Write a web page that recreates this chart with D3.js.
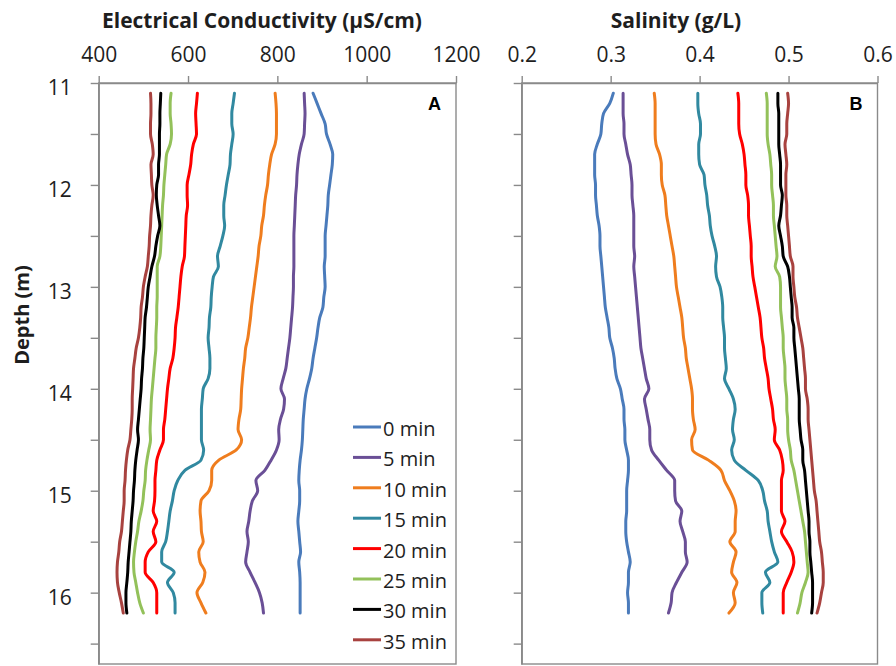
<!DOCTYPE html>
<html>
<head>
<meta charset="utf-8">
<script src="https://cdn.jsdelivr.net/npm/d3@7"></script>
<style>
  body { margin: 0; background: #fff; }
  text { font-family: "Open Sans", "DejaVu Sans", sans-serif; }
</style>
</head>
<body>
<svg id="chart" width="896" height="666"></svg>
<script>
// Depth of each profile reading (m)
const depth = [11.1,11.2,11.3,11.4,11.5,11.6,11.7,11.8,11.9,12.0,12.1,12.2,12.3,12.4,12.5,12.6,12.7,
  12.8,12.9,13.0,13.1,13.2,13.3,13.4,13.5,13.6,13.7,13.8,13.9,14.0,14.1,14.2,14.3,14.4,
  14.5,14.6,14.7,14.8,14.9,15.0,15.1,15.2,15.3,15.4,15.5,15.6,15.7,15.8,15.9,16.0,16.1,16.2];

const seriesNames = ["0 min","5 min","10 min","15 min","20 min","25 min","30 min","35 min"];
const seriesColors = ["#4a7bbb","#6a4f96","#ef7d1e","#3189a0","#ff0000","#93c15a","#000000","#a8423f"];

// Electrical conductivity profiles (µS/cm)
const ec0 = [880,889,898,907,910,918,924,923,920,917,914,913,911,909,907,907,907,
  905,906,907,904,902,895,891,888,884,880,877,872,866,862,860,858,857,
  856,854,851,849,848,850,850,848,846,848,850,852,848,850,851,851,851,851];
const ec5 = [860,861,862,861,860,854,849,846,844,843,841,840,839,838,837,837,837,
  837,836,836,835,834,832,830,828,825,822,819,813,808,816,814,807,803,
  804,798,786,772,752,756,744,739,736,732,735,732,729,739,750,760,766,769];
const ec10 = [795,797,798,798,798,795,787,783,780,778,774,771,769,765,763,759,757,
  754,751,748,745,742,740,737,734,729,727,724,722,720,719,718,714,712,
  720,708,669,653,653,647,629,627,629,630,634,624,627,638,633,620,629,640];
const ec15 = [704,701,698,698,701,698,695,694,690,686,683,680,680,682,678,672,666,
  668,657,654,652,651,648,647,645,647,649,649,645,634,632,630,630,630,
  630,635,629,593,577,569,565,560,557,554,550,541,541,569,554,567,571,571];
const ec20 = [621,619,617,618,619,612,608,606,602,598,598,599,596,595,594,593,592,
  587,584,582,580,578,575,572,571,569,566,560,557,554,552,550,548,545,
  545,537,530,528,526,526,525,522,530,522,528,511,504,504,522,530,530,530];
const ec25 = [562,560,560,562,563,560,552,550,548,546,545,543,542,541,540,539,537,
  531,531,531,531,530,530,529,528,528,526,524,522,520,518,517,516,515,
  516,512,508,505,504,501,499,495,490,487,483,480,478,479,483,487,492,500];
const ec30 = [539,538,537,537,536,536,536,534,534,530,529,531,534,537,532,528,525,
  519,515,511,509,507,504,503,502,501,499,498,496,495,493,491,489,487,
  489,486,483,481,480,478,477,475,473,472,470,468,466,465,463,461,461,463];
const ec35 = [516,517,517,516,516,520,522,517,518,519,522,519,517,516,514,513,511,
  509,504,500,498,495,494,492,489,484,481,478,477,476,475,475,474,472,
  470,465,462,460,459,457,457,455,453,451,447,445,442,441,442,446,451,455];

// Salinity profiles (g/L)
const sal0 = [.303,.299,.292,.290,.289,.285,.282,.282,.282,.283,.283,.284,.285,.287,.288,.288,.289,
  .290,.291,.292,.293,.294,.296,.298,.299,.302,.304,.305,.307,.311,.313,.315,.315,.316,
  .316,.318,.320,.320,.319,.318,.318,.318,.317,.317,.318,.320,.322,.320,.320,.319,.320,.320];
const sal5 = [.314,.314,.314,.315,.315,.317,.319,.322,.323,.324,.324,.325,.326,.326,.326,.326,.327,
  .326,.327,.328,.329,.330,.331,.332,.333,.334,.336,.338,.340,.343,.338,.340,.342,.344,
  .344,.346,.354,.363,.372,.372,.373,.380,.378,.381,.384,.384,.386,.380,.374,.369,.368,.365];
const sal10 = [.349,.350,.350,.350,.350,.351,.355,.357,.357,.358,.361,.362,.363,.365,.367,.369,.371,
  .372,.373,.374,.376,.378,.380,.381,.382,.384,.385,.387,.389,.391,.392,.392,.393,.395,
  .391,.392,.410,.424,.428,.434,.439,.441,.440,.440,.434,.441,.438,.436,.442,.438,.440,.433];
const sal15 = [.398,.398,.399,.401,.401,.399,.399,.400,.405,.406,.408,.409,.411,.412,.414,.417,.419,
  .418,.419,.423,.425,.426,.426,.427,.428,.428,.429,.430,.428,.433,.438,.440,.438,.437,
  .439,.436,.439,.452,.466,.471,.473,.476,.477,.479,.481,.484,.488,.474,.479,.470,.470,.471];
const sal20 = [.443,.444,.444,.444,.445,.448,.450,.451,.452,.452,.454,.455,.455,.456,.457,.458,.458,
  .459,.460,.462,.464,.466,.468,.469,.470,.472,.473,.475,.477,.478,.480,.482,.483,.485,
  .484,.490,.493,.494,.492,.492,.492,.492,.496,.492,.498,.504,.506,.503,.498,.494,.494,.494];
const sal25 = [.475,.476,.476,.476,.476,.477,.479,.480,.481,.481,.482,.483,.483,.484,.485,.486,.487,
  .485,.490,.491,.491,.491,.492,.493,.494,.494,.495,.496,.496,.497,.498,.498,.499,.499,
  .500,.502,.503,.506,.508,.510,.512,.514,.516,.518,.519,.520,.521,.522,.519,.515,.513,.510];
const sal30 = [.488,.488,.489,.489,.489,.489,.490,.491,.491,.491,.493,.492,.491,.489,.491,.493,.494,
  .499,.501,.502,.503,.504,.504,.506,.506,.507,.508,.509,.510,.511,.512,.512,.512,.513,
  .514,.516,.516,.518,.519,.520,.521,.522,.523,.523,.524,.524,.525,.526,.527,.527,.527,.526];
const sal35 = [.499,.500,.499,.498,.498,.496,.497,.498,.497,.497,.497,.498,.498,.499,.500,.501,.502,
  .505,.505,.506,.507,.509,.510,.512,.514,.516,.517,.518,.519,.519,.521,.522,.522,.523,
  .524,.525,.526,.527,.528,.529,.531,.532,.533,.534,.535,.537,.538,.539,.539,.537,.535,.532];

// Axis ticks
const ecTicks = [400,600,800,1000,1200];
const salTicks = [0.2,0.3,0.4,0.5,0.6];
const depthTicks = [11,11.5,12,12.5,13,13.5,14,14.5,15,15.5,16,16.5];

const svg = d3.select("#chart");
const axisColor = "#8a8a8a";
const textColor = "#1e1e1e";

const y = d3.scaleLinear().domain([11, 16.7]).range([83, 664]);

const panels = [
  { x: d3.scaleLinear().domain([400, 1200]).range([98.7, 456]),
    ticks: ecTicks, fmt: d3.format("d"),
    series: [ec0, ec5, ec10, ec15, ec20, ec25, ec30, ec35],
    title: "Electrical Conductivity (μS/cm)", titleX: 262,
    letter: "A", depthLabels: true, legend: true },
  { x: d3.scaleLinear().domain([0.2, 0.6]).range([521.7, 877.5]),
    ticks: salTicks, fmt: d3.format(".1f"),
    series: [sal0, sal5, sal10, sal15, sal20, sal25, sal30, sal35],
    title: "Salinity (g/L)", titleX: 676,
    letter: "B", depthLabels: false, legend: false }
];

panels.forEach(p => {
  const [x0, x1] = p.x.range();
  const [y0, y1] = y.range();
  const g = svg.append("g");

  // plot frame
  g.append("rect")
    .attr("x", x0).attr("y", y0)
    .attr("width", x1 - x0).attr("height", y1 - y0)
    .attr("fill", "none").attr("stroke", axisColor).attr("stroke-width", 1.4);

  // top value axis
  const xAxis = g.append("g")
    .attr("transform", `translate(0,${y0})`)
    .call(d3.axisTop(p.x).tickValues(p.ticks).tickFormat(p.fmt)
      .tickSize(7).tickSizeOuter(0).tickPadding(14));
  xAxis.selectAll("path, line").attr("stroke", axisColor).attr("stroke-width", 1.4);
  xAxis.selectAll("text")
    .attr("fill", textColor).style("font-size", "21px");

  // depth axis
  const yAxis = g.append("g")
    .attr("transform", `translate(${x0},0)`)
    .call(d3.axisLeft(y).tickValues(depthTicks)
      .tickFormat(d => (p.depthLabels && Number.isInteger(d)) ? d : "")
      .tickSize(8).tickSizeOuter(0).tickPadding(19));
  yAxis.selectAll("path, line").attr("stroke", axisColor).attr("stroke-width", 1.4);
  yAxis.selectAll("text")
    .attr("fill", textColor).attr("dy", "0.55em").style("font-size", "21px");

  // axis title
  g.append("text")
    .attr("x", p.titleX).attr("y", 28)
    .attr("text-anchor", "middle")
    .attr("fill", textColor)
    .style("font-size", "21px").style("font-weight", "bold")
    .text(p.title);

  // panel letter
  g.append("text")
    .attr("x", x1 - 21.5).attr("y", 110)
    .attr("text-anchor", "middle")
    .attr("fill", "#000")
    .style("font-family", "'Liberation Sans', Arial, sans-serif")
    .style("font-size", "18px").style("font-weight", "bold")
    .text(p.letter);

  // profiles
  const line = d3.line()
    .x(d => p.x(d[0]))
    .y(d => y(d[1]))
    .curve(d3.curveMonotoneY);

  p.series.forEach((vals, i) => {
    g.append("path")
      .datum(vals.map((v, k) => [v, depth[k]]))
      .attr("d", line)
      .attr("fill", "none")
      .attr("stroke", seriesColors[i])
      .attr("stroke-width", 3)
      .attr("stroke-linecap", "round")
      .attr("stroke-linejoin", "round");
  });

  // legend
  if (p.legend) {
    const lg = g.append("g");
    seriesNames.forEach((name, i) => {
      const base = 436 + i * 30.4;
      lg.append("line")
        .attr("x1", 353).attr("x2", 381)
        .attr("y1", base - 9).attr("y2", base - 9)
        .attr("stroke", seriesColors[i]).attr("stroke-width", 3);
      lg.append("text")
        .attr("x", 383).attr("y", base)
        .attr("fill", textColor)
        .style("font-size", "20px")
        .text(name);
    });
  }
});

// shared depth label
svg.append("text")
  .attr("transform", "translate(29,315) rotate(-90)")
  .attr("text-anchor", "middle")
  .attr("fill", textColor)
  .style("font-size", "20px").style("font-weight", "bold")
  .text("Depth (m)");
</script>
</body>
</html>
